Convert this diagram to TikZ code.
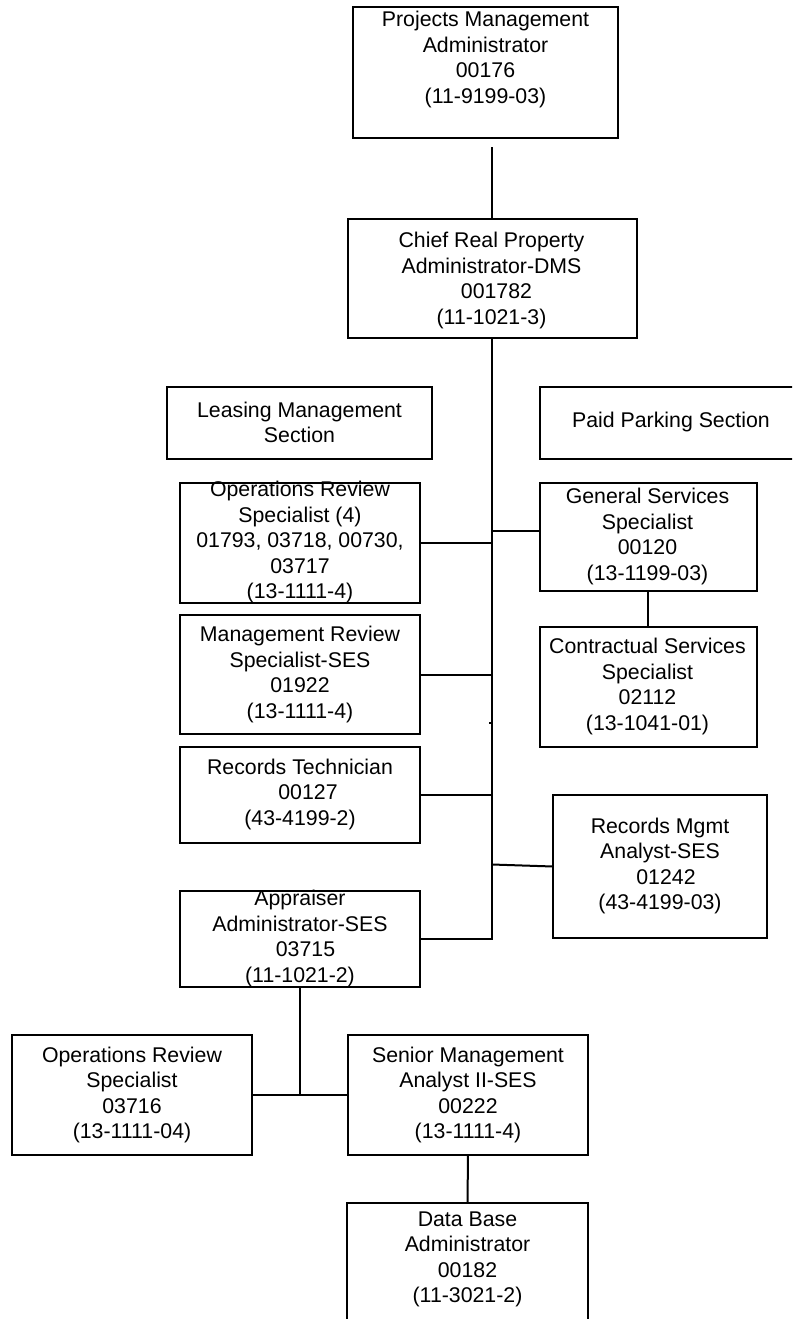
\documentclass[tikz,border=0pt]{standalone}
\usepackage{fontspec}
\setmainfont{Liberation Sans}
\begin{document}
\begin{tikzpicture}[x=1pt,y=-1pt,
  box/.style={draw=black, line width=2pt, rectangle, inner sep=0pt, outer sep=0pt},
  txt/.style={align=center, inner sep=0pt, font=\fontsize{21.3}{25.5}\selectfont},
  wire/.style={draw=black, line width=2pt}]
\clip (0,0) rectangle (792,1319);
\fill[white] (0,0) rectangle (792,1319);

% ---- boxes ----
\node[box, minimum width=265pt, minimum height=131pt] (top) at (485.5,72.5) {};
\node[box, minimum width=289pt, minimum height=119pt] (chief) at (492,278.5) {};
\node[box, minimum width=265pt, minimum height=72pt] (leasing) at (299.5,423) {};
\node[box, minimum width=262pt, minimum height=72pt] (parking) at (671,423) {};
\node[box, minimum width=240pt, minimum height=120pt] (ops4) at (300,543) {};
\node[box, minimum width=240pt, minimum height=119pt] (mgmt) at (300,674.5) {};
\node[box, minimum width=217pt, minimum height=108pt] (gen) at (648,537) {};
\node[box, minimum width=217pt, minimum height=120pt] (contr) at (648,687) {};
\node[box, minimum width=240pt, minimum height=96pt] (rtech) at (300,795) {};
\node[box, minimum width=240pt, minimum height=96pt] (appr) at (300,939) {};
\node[box, minimum width=214pt, minimum height=143pt] (rmgmt) at (660,866.5) {};
\node[box, minimum width=240pt, minimum height=120pt] (ops1) at (132,1095) {};
\node[box, minimum width=240pt, minimum height=120pt] (senior) at (468,1095) {};
\node[box, minimum width=241pt, minimum height=122pt] (db) at (467.5,1264) {};

% ---- texts ----
\node[txt] (topT) at (485.5,59.5) {Projects Management\\Administrator\\00176\\(11-9199-03)};
\node[txt] (chiefT) at (491.5,280.5) {Chief Real Property\\Administrator-DMS\\\hspace*{10pt}001782\\(11-1021-3)};
\node[txt] (leasingT) at (299.5,422.5) {Leasing Management\\Section};
\node[txt] (parkingT) at (671,422) {Paid Parking Section};
\node[txt] (ops4T) at (300,542) {Operations Review\\Specialist (4)\\01793, 03718, 00730,\\03717\\(13-1111-4)};
\node[txt] (mgmtT) at (300,674.5) {Management Review\\Specialist-SES\\01922\\(13-1111-4)};
\node[txt] (genT) at (647.5,536.5) {General Services\\Specialist\\00120\\(13-1199-03)};
\node[txt] (contrT) at (647.5,686.5) {Contractual Services\\Specialist\\02112\\(13-1041-01)};
\node[txt] (rtechT) at (300,794) {Records Technician\\\hspace*{16pt}00127\\(43-4199-2)};
\node[txt] (apprT) at (300,938.5) {Appraiser\\Administrator-SES\\\hspace*{11pt}03715\\(11-1021-2)};
\node[txt] (rmgmtT) at (660,866) {Records Mgmt\\Analyst-SES\\\hspace*{12pt}01242\\(43-4199-03)};
\node[txt] (ops1T) at (132,1095) {Operations Review\\Specialist\\03716\\(13-1111-04)};
\node[txt] (seniorT) at (468,1095) {Senior Management\\Analyst II-SES\\00222\\(13-1111-4)};
\node[txt] (dbT) at (467.5,1259.5) {Data Base\\Administrator\\00182\\(11-3021-2)};

% ---- connectors ----
\coordinate (trunkTop) at (492,147);
\draw[wire] (trunkTop) -- (trunkTop |- chief.north);
\draw[wire] (chief.south) |- (appr.east);
\draw[wire] (ops4.east) -- (ops4.east -| chief.south);
\draw[wire] ([yshift=6pt]gen.west) -- ([yshift=6pt]gen.west -| chief.south);
\draw[wire] (mgmt.east) -- (mgmt.east -| chief.south);
\coordinate (tick) at (489,723);
\draw[line width=1.2pt] (tick) -- (tick -| chief.south);
\draw[wire] (rtech.east) -- (rtech.east -| chief.south);
\draw[wire] (rmgmt.west) -- ([yshift=2pt]rmgmt.west -| chief.south);
\draw[wire] (gen.south) -- (contr.north);
\draw[wire] (appr.south) |- (ops1.east);
\draw[wire] (appr.south |- ops1.east) -- (senior.west);
\draw[wire] (senior.south) -- (db.north);
\end{tikzpicture}
\end{document}
